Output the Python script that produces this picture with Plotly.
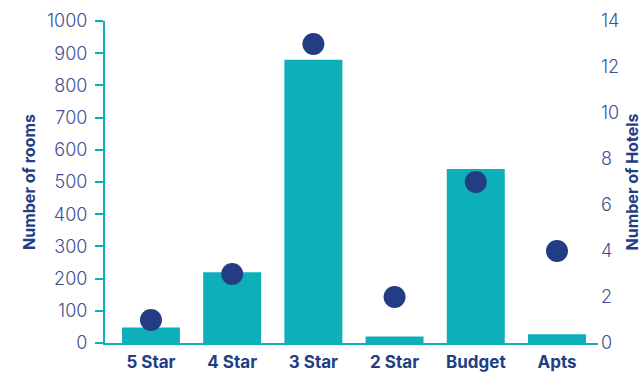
import plotly.graph_objects as go

categories = ["5 Star", "4 Star", "3 Star", "2 Star", "Budget", "Apts"]
rooms = [48, 220, 880, 20, 540, 27]
hotels = [1, 3, 13, 2, 7, 4]
left_ticks = [0, 100, 200, 300, 400, 500, 600, 700, 800, 900, 1000]
right_ticks = [0, 2, 4, 6, 8, 10, 12, 14]

TEAL = "#0db0b8"
NAVY = "#223d84"
TICK = "#3e5192"
FONT = "Inter, Lato, sans-serif"

fig = go.Figure()
fig.add_trace(go.Bar(x=list(range(len(categories))), y=rooms, marker=dict(color=TEAL, line=dict(width=0)),
                     width=0.714, yaxis="y"))
fig.add_trace(go.Scatter(x=list(range(len(categories))), y=hotels, mode="markers",
                         marker=dict(color=NAVY, size=22), yaxis="y2"))

fig.update_layout(
    width=644, height=373,
    margin=dict(l=105, r=46, t=21, b=30),
    plot_bgcolor="white", paper_bgcolor="white",
    showlegend=False,
    xaxis=dict(range=[-0.566, 5.505], tickvals=list(range(len(categories))), ticktext=categories,
               showline=True, linecolor=TEAL, linewidth=2, showgrid=False, zeroline=False, automargin=False,
               tickfont=dict(family=FONT, size=17, color=NAVY, weight="bold"), ticks="",
               ticklabelstandoff=3),
    yaxis=dict(range=[0, 1000], tickvals=left_ticks, showline=True, linecolor=TEAL, linewidth=2,
               ticks="outside", ticklen=8, tickwidth=2, tickcolor=TEAL, showgrid=False, zeroline=False,
               automargin=False,
               tickfont=dict(family=FONT, size=18, color=TICK, weight=300),
               ticklabelstandoff=4,
               title=dict(text="Number of rooms", font=dict(family=FONT, size=16, color=NAVY, weight="bold"),
                          standoff=7)),
    yaxis2=dict(range=[0, 14], tickvals=right_ticks, overlaying="y", side="right", showline=False,
                showgrid=False, zeroline=False, ticks="", automargin=False,
                tickfont=dict(family=FONT, size=18, color=TICK, weight=300),
                ticklabelstandoff=2,
                title=dict(text="Number of Hotels", font=dict(family=FONT, size=16, color=NAVY, weight="bold"),
                           standoff=8)),
)

fig.write_html("out.html")
